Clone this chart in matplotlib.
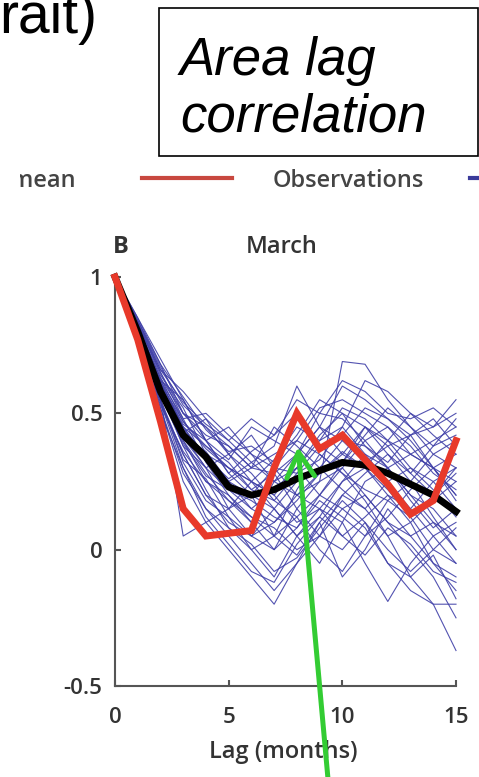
import numpy as np
import matplotlib
matplotlib.use("Agg")
import matplotlib.pyplot as plt
from matplotlib.patches import Rectangle, FancyArrowPatch
from matplotlib.lines import Line2D
from matplotlib.transforms import Bbox, TransformedBbox

# lag axis (months)
lags = list(range(16))

# observed lag correlation (red)
observations = [1.0, 0.77, 0.47, 0.15, 0.05, 0.06, 0.07, 0.30, 0.50, 0.37,
                0.42, 0.33, 0.24, 0.13, 0.18, 0.40]

# ensemble mean (black)
ens_mean = [1.0, 0.80, 0.58, 0.42, 0.34, 0.23, 0.20, 0.22, 0.26, 0.29,
            0.32, 0.31, 0.28, 0.24, 0.20, 0.14]

# individual ensemble members (thin blue)
members = [
    [1, .82, .62, .45, .38, .30, .25, .33, .45, .40, .52, .48, .40, .35, .30, .25],
    [1, .78, .55, .35, .20, .15, .05, .10, .20, .15, .05, .12, .20, .10, -.05, -.10],
    [1, .85, .68, .50, .42, .38, .30, .28, .35, .45, .60, .55, .48, .42, .45, .50],
    [1, .75, .50, .30, .15, .05, -.05, -.15, -.05, .10, .20, .15, .05, -.10, -.20, -.37],
    [1, .80, .62, .55, .40, .28, .20, .15, .25, .30, .40, .38, .30, .20, .15, .05],
    [1, .83, .65, .48, .50, .42, .35, .30, .28, .33, .45, .62, .58, .50, .42, .35],
    [1, .77, .52, .25, .10, .00, -.10, -.20, -.05, .05, .00, .10, -.05, -.15, -.20, -.20],
    [1, .81, .60, .45, .33, .25, .20, .30, .40, .35, .28, .22, .18, .25, .35, .40],
    [1, .84, .66, .58, .48, .40, .32, .38, .60, .45, .35, .30, .40, .50, .45, .55],
    [1, .79, .58, .40, .25, .20, .10, .00, .15, .25, .30, .20, .10, .05, .10, .00],
    [1, .82, .63, .50, .45, .35, .42, .30, .20, .25, .69, .68, .55, .45, .35, .30],
    [1, .76, .54, .35, .20, .10, .05, .15, .05, -.05, .10, .25, .30, .20, .10, .05],
    [1, .80, .60, .42, .30, .22, .15, .10, .18, .28, .35, .45, .40, .30, .25, .15],
    [1, .83, .64, .52, .35, .30, .25, .20, .30, .40, .45, .35, .25, .15, .05, -.05],
    [1, .78, .57, .38, .30, .15, .20, .05, -.02, .10, -.10, .00, .15, .05, -.05, -.15],
    [1, .85, .70, .55, .40, .33, .45, .40, .35, .50, .48, .40, .30, .35, .40, .45],
    [1, .77, .55, .32, .18, .12, .00, -.10, .05, .15, .10, -.05, -.19, -.05, .05, .10],
    [1, .81, .61, .46, .40, .45, .35, .25, .30, .20, .30, .40, .45, .35, .30, .20],
    [1, .79, .56, .05, .10, .15, .25, .20, .10, .15, .25, .30, .20, .15, .25, .30],
    [1, .82, .59, .40, .28, .18, .10, .25, .35, .45, .40, .32, .38, .42, .30, .20],
    [1, .80, .62, .48, .32, .20, .12, .08, .00, .05, .15, .20, .10, .00, -.10, -.25],
    [1, .84, .67, .53, .45, .38, .30, .35, .40, .52, .55, .50, .45, .38, .28, .22],
    [1, .78, .58, .44, .35, .25, .30, .45, .38, .30, .22, .15, .25, .30, .22, .12],
    [1, .76, .53, .36, .25, .18, .12, .05, .22, .35, .28, .18, .05, .10, .18, .25],
    [1, .81, .60, .43, .48, .35, .28, .18, .12, .20, .32, .42, .52, .45, .38, .48],
    [1, .80, .61, .47, .38, .32, .22, .28, .15, .05, .20, .28, .35, .25, .12, .00],
    [1, .79, .57, .39, .27, .22, .18, .12, .08, .18, .12, .05, .12, .22, .30, .35],
    [1, .83, .65, .50, .40, .28, .36, .42, .50, .38, .32, .45, .38, .28, .20, .30],
    [1, .78, .54, .30, .12, .02, -.08, -.12, .02, .12, .05, -.02, .08, .02, -.08, -.12],
    [1, .80, .58, .38, .22, .08, .00, .05, .12, .00, -.08, .05, .18, .12, .00, -.05],
    [1, .83, .66, .54, .46, .40, .48, .42, .55, .50, .62, .58, .50, .48, .52, .45],
    [1, .79, .60, .42, .36, .25, .15, .22, .30, .42, .50, .45, .35, .28, .38, .42],
    [1, .77, .52, .28, .15, .08, .02, -.08, -.03, .08, .18, .10, .00, -.08, .00, .08],
    [1, .82, .63, .47, .37, .30, .22, .18, .28, .38, .42, .52, .48, .40, .30, .18],
    [1, .81, .59, .41, .30, .35, .25, .15, .05, .12, .25, .35, .30, .18, .08, .15],
    [1, .84, .68, .56, .44, .36, .38, .32, .42, .55, .50, .38, .32, .42, .48, .38],
    [1, .78, .55, .33, .26, .12, .05, .00, .08, .20, .15, .08, -.05, -.10, -.02, -.18],
    [1, .80, .61, .45, .34, .26, .32, .25, .20, .28, .36, .30, .22, .12, .20, .28],
]

xticks = [0, 5, 10, 15]
yticks = [-0.5, 0, 0.5, 1]
ytick_labels = ["-0.5", "0", "0.5", "1"]

W, H = 479, 777
txt_col = "#333333"
plot_font = "Open Sans"


def fx(px):
    return px / W


def fy(py):
    return 1 - py / H


fig = plt.figure(figsize=(W / 100, H / 100), dpi=100)
fig.patch.set_facecolor("white")

# main axes
ax = fig.add_axes([fx(115), fy(686), fx(456) - fx(115), fy(277) - fy(686)])
for m in members:
    ax.plot(lags, m, color="#4040a8", lw=0.8, alpha=0.9, clip_on=False, zorder=2)
ax.plot(lags, ens_mean, color="black", lw=5, solid_joinstyle="round",
        clip_on=False, zorder=3)
ax.plot(lags, observations, color="#e8392a", lw=5, solid_joinstyle="miter",
        clip_on=False, zorder=4)

ax.set_xlim(0, 15)
ax.set_ylim(-0.5, 1)
ax.set_xticks(xticks)
ax.set_yticks(yticks)
ax.set_yticklabels(ytick_labels)
for s in ["top", "right"]:
    ax.spines[s].set_visible(False)
for s in ["left", "bottom"]:
    ax.spines[s].set_color("#555555")
    ax.spines[s].set_linewidth(1.5)
ax.tick_params(axis="both", direction="in", length=4, width=1.5, color="#555555",
               labelcolor=txt_col, labelsize=16)
ax.tick_params(axis="x", pad=15)
ax.tick_params(axis="y", pad=9)
for lab in ax.get_xticklabels() + ax.get_yticklabels():
    lab.set_family(plot_font)
    lab.set_fontweight("semibold")

fig.text(fx(283), fy(752), "Lag (months)", ha="center", va="center",
         fontsize=17, color=txt_col, family=plot_font, fontweight="semibold")
fig.text(fx(121), fy(247), "B", ha="center", va="center", fontsize=17,
         fontweight="bold", color=txt_col, family=plot_font)
fig.text(fx(282), fy(247), "March", ha="center", va="center", fontsize=17,
         color=txt_col, family=plot_font, fontweight="semibold")

# legend row (cropped at both sides in the original)
t = fig.text(fx(76), fy(181), "Ensemble mean", ha="right", va="center",
             fontsize=17, color="#444444", family=plot_font, fontweight="semibold")
t.set_clip_box(TransformedBbox(Bbox([[fx(20), 0], [1, 1]]), fig.transFigure))
fig.add_artist(Line2D([fx(142), fx(232)], [fy(178), fy(178)],
                      color="#c8483f", lw=3))
fig.text(fx(273), fy(181), "Observations", ha="left", va="center",
         fontsize=17, color="#444444", family=plot_font, fontweight="semibold")
fig.add_artist(Line2D([fx(470), fx(485)], [fy(178), fy(178)],
                      color="#3a3a9a", lw=3))

# slide text
fig.text(fx(97), fy(33), "rait)", ha="right", va="baseline", fontsize=41,
         family="Liberation Sans", color="black")
fig.add_artist(Rectangle((fx(159), fy(156)), fx(478) - fx(159), fy(8) - fy(156),
                         transform=fig.transFigure, fill=False,
                         edgecolor="black", lw=1.2))
fig.text(fx(180), fy(75), "Area lag", ha="left", va="baseline", fontsize=38,
         style="italic", family="Liberation Sans", color="black")
fig.text(fx(180), fy(132), "correlation", ha="left", va="baseline", fontsize=38,
         style="italic", family="Liberation Sans", color="black")

# green arrow
arrow = FancyArrowPatch((fx(329), fy(790)), (fx(298), fy(447)),
                        transform=fig.transFigure,
                        arrowstyle="->,head_length=18,head_width=10",
                        color="#33cc33", lw=3.6, mutation_scale=1,
                        shrinkA=0, shrinkB=0, zorder=10)
fig.add_artist(arrow)

fig.savefig("out.png", dpi=100)
